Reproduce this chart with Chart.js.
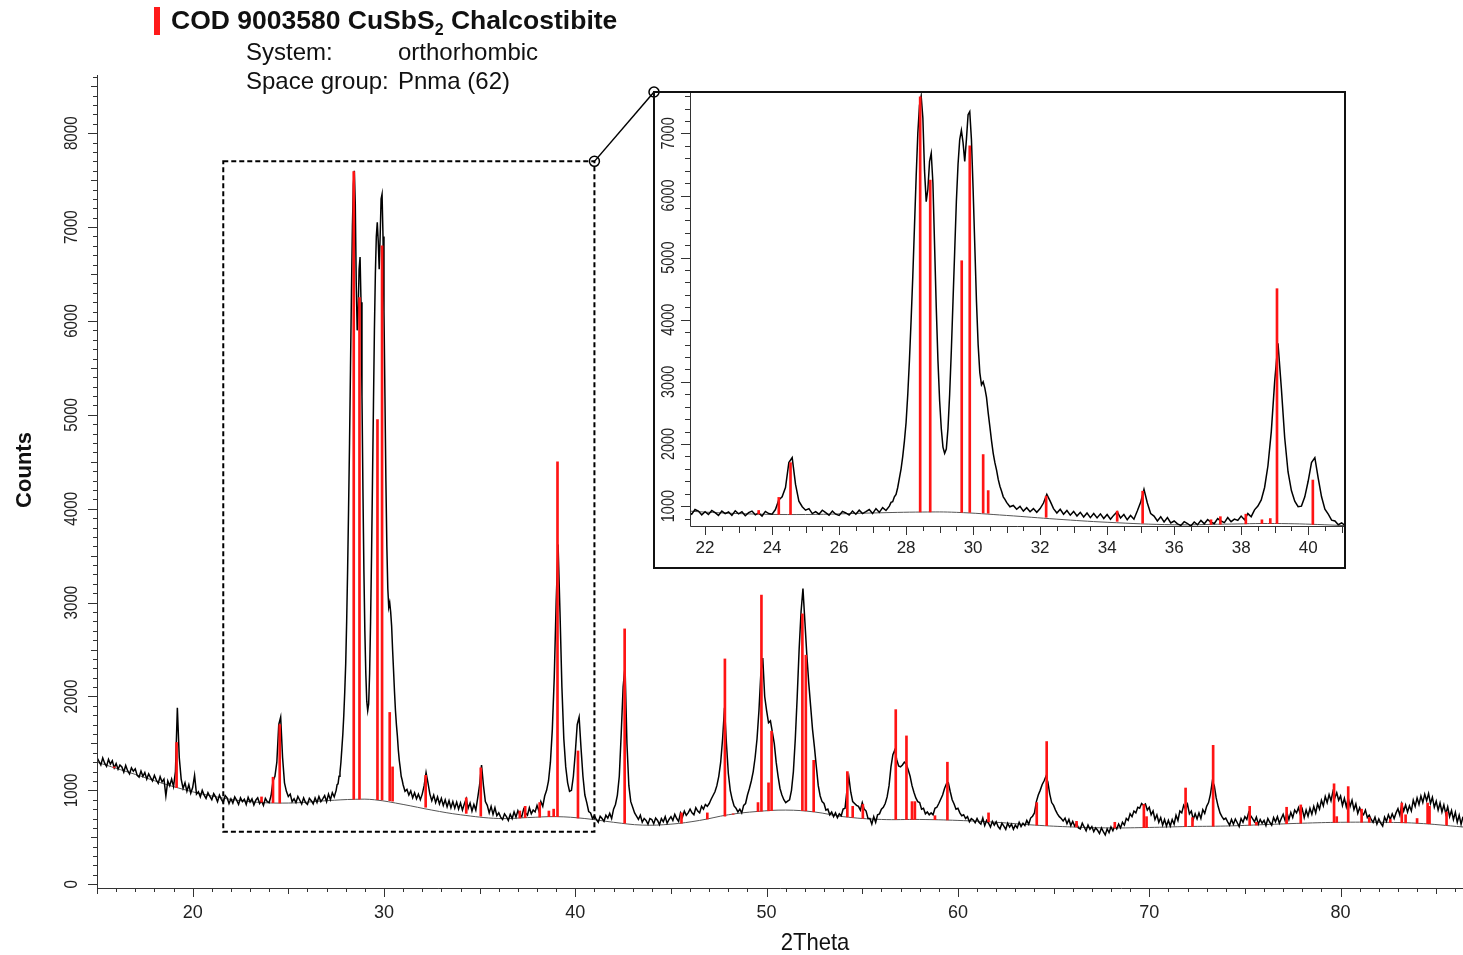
<!DOCTYPE html>
<html>
<head>
<meta charset="utf-8">
<script src="https://cdn.jsdelivr.net/npm/chart.js@4.4.1/dist/chart.umd.min.js"></script>
<style>
  body { margin: 0; background: #fff; font-family: 'Liberation Sans', Arial, sans-serif; }
  #wrap { position: relative; width: 1463px; height: 955px; overflow: hidden; }
  #mainChart { position: absolute; left: 0; top: 0; }
  #inset { position: absolute; left: 653px; top: 91px; width: 689px; height: 474px; border: 2px solid #111; }
  #insetChart { position: absolute; left: 0; top: 0; }
  .redbar { position: absolute; left: 154px; top: 7px; width: 6px; height: 28px; background: #ff1a1a; }
  .title { position: absolute; left: 171px; top: 5px; font-weight: bold; font-size: 26.5px; color: #111; white-space: nowrap; }
  .title sub { font-size: 16px; vertical-align: -6px; line-height: 0; }
  .info { position: absolute; font-size: 24px; color: #111; white-space: nowrap; }
</style>
</head>
<body>
<div id="wrap">
  <canvas id="mainChart" width="1463" height="955"></canvas>
  <div class="redbar"></div>
  <div class="title">COD 9003580 CuSbS<sub>2</sub> Chalcostibite</div>
  <div class="info" style="left:246px; top:38px;">System:</div>
  <div class="info" style="left:398px; top:38px;">orthorhombic</div>
  <div class="info" style="left:246px; top:67px;">Space group:</div>
  <div class="info" style="left:398px; top:67px;">Pnma (62)</div>
  <div id="inset"><canvas id="insetChart" width="689" height="474"></canvas></div>
</div>
<script>
// measured pattern, read off the picture
// part 1: 15.0 - 27.4 deg, step 0.1
var lowStart = 15.0, lowStep = 0.1;
var countsLow = [
  1350, 1310, 1270, 1345, 1290, 1255, 1330, 1280, 1315, 1240,
  1285, 1225, 1270, 1250, 1195, 1265, 1210, 1175, 1240, 1205,
  1230, 1160, 1140, 1205, 1150, 1190, 1120, 1175, 1135, 1100,
  1160, 1110, 1075, 1145, 1090, 1120, 940, 1100, 1050, 1120,
  1040, 1200, 1880, 1350, 1120, 1020, 1080, 990, 1060, 970,
  1030, 1160, 960, 985, 930, 1000, 950, 915, 975, 935,
  900, 965, 930, 880, 950, 905, 870, 945, 920, 860,
  910, 865, 930, 895, 850, 920, 880, 905, 850, 925,
  875, 910, 845, 895, 920, 860, 890, 840, 915, 880,
  870, 945, 1100, 1150, 1300, 1700, 1780, 1350, 1080, 990,
  935, 960, 880, 910, 870, 935, 895, 855, 920, 870,
  850, 915, 890, 855, 920, 870, 935, 880, 910, 945,
  880, 960, 900, 975, 930
];
// part 2: 27.5 - 30.95 deg, step 0.05 (main double peaks)
var peakStart = 27.5, peakStep = 0.05;
var countsPeak = [
  1000, 1060, 1070, 1150, 1190, 1300, 1450, 1600, 1800, 2050,
  2350, 2800, 3350, 4000, 4700, 5500, 6300, 7000, 7450, 7600,
  7250, 6400, 5900, 6100, 6550, 6680, 6200, 5200, 4200, 3350,
  2700, 2250, 1950, 1850, 1920, 2250, 2800, 3500, 4300, 5100,
  5900, 6500, 6900, 7050, 6850, 6550, 6900, 7300, 7350, 6900,
  6100, 5200, 4300, 3600, 3150, 2950, 3000, 2900, 2750, 2500,
  2280, 2050, 1850, 1700, 1580, 1430, 1320, 1240, 1150, 1110
];
// part 3: 31.0 - 86.4 deg, step 0.1
var highStart = 31.0, highStep = 0.1;
var countsHigh = [
  1060, 990, 1010, 950, 995, 920, 975, 910, 960, 900,
  960, 1050, 1190, 1080, 960, 890, 950, 870, 930, 855,
  915, 840, 900, 825, 890, 815, 880, 810, 875, 800,
  865, 790, 855, 910, 810, 865, 780, 850, 790, 920,
  1060, 1270, 1050, 880, 840, 760, 830, 745, 815, 730,
  760, 715, 690, 750, 720, 680, 745, 700, 770, 715,
  785, 740, 720, 800, 760, 735, 815, 750, 790, 770,
  840, 780, 880, 830, 940, 1000, 1100, 1300, 1650, 2200,
  3000, 3620, 2900, 2100, 1550, 1250, 1080, 990, 1000, 1150,
  1400, 1700, 1780, 1450, 1150, 950, 870, 775, 760, 700,
  730, 690, 660, 725, 700, 670, 735, 705, 755, 700,
  800, 850, 950, 1150, 1600, 2100, 2320, 1500, 1050, 880,
  820, 760, 725, 690, 735, 660, 700, 680, 640, 700,
  690, 645, 705, 680, 635, 700, 665, 720, 650, 690,
  720, 680, 745, 700, 670, 760, 715, 780, 735, 760,
  800, 760, 740, 815, 780, 760, 830, 800, 850, 830,
  860, 905, 945, 985, 1050, 1150, 1300, 1550, 1880, 1500,
  1180, 1000, 905, 835, 810, 770, 800, 760, 840, 860,
  950, 1020, 1100, 1200, 1350, 1550, 1850, 2250, 2410, 2000,
  1850, 1720, 1740, 1620, 1500, 1300, 1150, 1020, 950, 900,
  870, 885, 900, 1000, 1200, 1550, 2000, 2500, 2900, 3150,
  2800, 2450, 2150, 1900, 1650, 1460, 1250, 1050, 940, 880,
  860, 790, 800, 740, 770, 720, 760, 710, 750, 730,
  800, 810, 1000, 1140, 980, 880, 860, 840, 830, 790,
  870, 800, 780, 700, 700, 640, 720, 660, 740, 750,
  800, 820, 860, 930, 1050, 1250, 1380, 1430, 1330, 1260,
  1250, 1270, 1300, 1280, 1220, 1150, 1050, 980, 920, 880,
  870, 800, 810, 750, 770, 740, 760, 740, 810, 820,
  860, 905, 950, 1020, 1070, 1080, 985, 900, 855, 800,
  810, 760, 730, 740, 700, 720, 665, 700, 685, 655,
  700, 660, 640, 705, 625, 680, 650, 610, 670, 630,
  665, 615, 590, 650, 620, 585, 650, 610, 640, 585,
  630, 600, 660, 615, 650, 625, 680, 640, 705, 725,
  760, 880, 950, 1000, 1060, 1100, 1150, 1090, 960, 870,
  840, 790, 750, 720, 700, 675, 705, 645, 690, 625,
  670, 620, 650, 600, 590, 650, 610, 570, 630, 585,
  615, 560, 600, 575, 540, 600, 560, 525, 590, 550,
  610, 570, 620, 590, 640, 600, 660, 630, 700, 680,
  750, 720, 780, 760, 820, 810, 860, 840, 855, 790,
  820, 740, 780, 690, 740, 660, 710, 630, 690, 620,
  680, 620, 690, 640, 735, 680, 780, 760, 840, 800,
  850, 750, 780, 690, 750, 695, 760, 700, 795, 755,
  830, 870, 960, 1100, 1050, 920, 830, 760, 720, 690,
  705, 665, 630, 690, 640, 695, 655, 615, 700, 660,
  720, 690, 765, 730, 700, 665, 715, 640, 690, 650,
  680, 625, 700, 660, 630, 710, 665, 720, 650, 700,
  745, 680, 760, 690, 765, 710, 790, 760, 815, 740,
  800, 710, 790, 725, 810, 745, 830, 760, 855, 800,
  895, 835, 935, 870, 955, 890, 985, 920, 975, 895,
  940, 840, 915, 825, 920, 830, 895, 795, 855, 755,
  815, 760, 740, 790, 710, 735, 690, 660, 715, 640,
  695, 650, 620, 715, 670, 740, 690, 750, 700, 760,
  805, 735, 855, 780, 845, 770, 835, 780, 895, 830,
  920, 850, 940, 870, 960, 890, 965, 860, 925, 820,
  885, 790, 865, 770, 845, 750, 825, 720, 785, 690,
  765, 660, 735, 640, 720
];

// fitted background (grey curve)
var bgTheta = [15, 17, 19, 21, 23, 25, 27, 28.5, 29.5, 31, 32.5, 34, 36, 37.5, 39, 40.5, 42, 43.5, 45, 46.5, 48, 49.5, 51, 52.5, 54, 56, 58, 60, 62, 64, 66, 68, 70, 72, 74, 76, 78, 80, 82, 84, 86.4];
var bgCounts = [1300, 1170, 1040, 940, 880, 865, 890, 905, 900, 850, 790, 740, 700, 710, 720, 700, 660, 630, 640, 680, 740, 775, 790, 770, 720, 690, 690, 680, 660, 630, 610, 600, 605, 615, 620, 635, 650, 660, 660, 650, 610];

// COD 9003580 reference lines
var stickTheta = [15.9, 19.16, 23.6, 24.2, 24.55, 28.42, 28.72, 29.66, 29.9, 30.3, 30.45, 32.18, 34.3, 35.06, 37.1, 37.38, 38.14, 38.62, 38.87, 39.07, 40.14, 42.58, 45.55, 46.9, 47.82, 48.25, 49.55, 49.73, 50.1, 50.26, 51.87, 52.05, 52.46, 54.22, 54.5, 55.03, 56.75, 57.31, 57.6, 57.75, 58.8, 59.45, 61.6, 64.12, 64.64, 66.2, 68.2, 69.72, 69.86, 71.9, 72.26, 73.34, 75.25, 75.6, 77.18, 77.92, 79.66, 79.8, 80.4, 81.1, 81.5, 82.6, 83.2, 83.4, 84.0, 84.55, 84.65, 85.54];
var stickTop = [1250, 1510, 930, 1140, 1700, 7590, 6250, 4950, 6800, 1830, 1250, 1160, 920, 1240, 780, 830, 870, 780, 800, 4500, 1420, 2720, 760, 760, 2400, 750, 870, 3080, 1080, 1630, 2880, 2440, 1320, 1200, 830, 850, 1860, 1580, 880, 880, 730, 1300, 760, 870, 1520, 670, 660, 850, 720, 1025, 710, 1480, 830, 660, 820, 845, 1070, 720, 1040, 800, 710, 690, 865, 740, 700, 865, 830, 770];
var stickBase = [1240, 1030, 875, 868, 865, 905, 905, 900, 898, 890, 885, 820, 755, 725, 705, 710, 715, 720, 720, 720, 705, 650, 650, 695, 725, 745, 775, 778, 782, 785, 785, 782, 772, 718, 712, 702, 690, 690, 690, 690, 688, 685, 665, 630, 625, 610, 600, 603, 603, 614, 615, 618, 628, 630, 645, 650, 658, 660, 660, 660, 660, 658, 655, 654, 650, 645, 644, 630];

// axes
var xTickLabels = [20, 30, 40, 50, 60, 70, 80];
var yTickLabels = [0, 1000, 2000, 3000, 4000, 5000, 6000, 7000, 8000];
var insetXTickLabels = [22, 24, 26, 28, 30, 32, 34, 36, 38, 40];
var insetYTickLabels = [1000, 2000, 3000, 4000, 5000, 6000, 7000];

// zoom window shown in the inset
var boxTheta = [21.6, 41.0];
var boxCounts = [560, 7700];
var insetTheta = [21.55, 41.07];
var insetCounts = [680, 7650];


var profile = [];
countsLow.forEach(function(c, i){ profile.push({x: +(lowStart + i*lowStep).toFixed(2), y: c}); });
countsPeak.forEach(function(c, i){ profile.push({x: +(peakStart + i*peakStep).toFixed(2), y: c}); });
countsHigh.forEach(function(c, i){ profile.push({x: +(highStart + i*highStep).toFixed(2), y: c}); });

var background = bgTheta.map(function(t, i){ return {x: t, y: bgCounts[i]}; });
var sticks = stickTheta.map(function(t, i){ return {x: t, y: [stickBase[i], stickTop[i]]}; });

function isMult(v, m){ var r = v / m; return Math.abs(r - Math.round(r)) < 1e-6; }

// tick marks + labels drawn off the chart scales
function axisPlugin(o){
    return {
        id: 'axes',
        afterDraw: function(chart){
            var ctx = chart.ctx, a = chart.chartArea, xs = chart.scales.x, ys = chart.scales.y;
            ctx.save();
            ctx.strokeStyle = '#333';
            ctx.lineWidth = 1;
            ctx.beginPath();
            ctx.moveTo(a.left + 0.5, a.top);
            ctx.lineTo(a.left + 0.5, a.bottom + 0.5);
            ctx.lineTo(a.right, a.bottom + 0.5);
            ctx.stroke();

            ctx.beginPath();
            for (var i = Math.ceil(xs.min / o.xMinor); i * o.xMinor <= xs.max + 1e-9; i++) {
                var v = i * o.xMinor;
                var len = isMult(v, o.xMajor) ? o.major : (isMult(v, o.xMid) ? o.mid : o.minor);
                var px = Math.round(xs.getPixelForValue(v)) + 0.5;
                ctx.moveTo(px, a.bottom);
                ctx.lineTo(px, a.bottom + len);
            }
            for (var j = Math.ceil(Math.max(ys.min, 0) / o.yMinor); j * o.yMinor <= ys.max + 1e-9; j++) {
                var w = j * o.yMinor;
                var ylen = isMult(w, o.yMajor) ? o.major : (isMult(w, o.yMid) ? o.mid : o.minor);
                var py = Math.round(ys.getPixelForValue(w)) + 0.5;
                ctx.moveTo(a.left, py);
                ctx.lineTo(a.left - ylen, py);
            }
            ctx.stroke();

            ctx.fillStyle = '#222';
            ctx.font = o.xFont;
            ctx.textAlign = 'center';
            ctx.textBaseline = 'middle';
            o.xLabels.forEach(function(v){
                if (v < xs.min || v > xs.max) return;
                ctx.fillText(String(v), xs.getPixelForValue(v), a.bottom + o.xLabelGap);
            });
            ctx.font = o.yFont;
            o.yLabels.forEach(function(v){
                if (v < ys.min || v > ys.max) return;
                ctx.save();
                ctx.translate(a.left - o.yLabelGap, ys.getPixelForValue(v));
                ctx.rotate(-Math.PI / 2);
                ctx.scale(0.8, 1);   // condensed digits like the original
                ctx.fillText(String(v), 0, 0);
                ctx.restore();
            });
            if (o.extra) o.extra(chart);
            ctx.restore();
        }
    };
}

function mainExtra(chart){
    var ctx = chart.ctx, xs = chart.scales.x, ys = chart.scales.y;
    // axis titles
    ctx.fillStyle = '#111';
    ctx.save();
    ctx.font = 'bold 22px "Liberation Sans", Arial, sans-serif';
    ctx.translate(25, 470);
    ctx.rotate(-Math.PI / 2);
    ctx.fillText('Counts', 0, 0);
    ctx.restore();
    ctx.save();
    ctx.font = '24px "Liberation Sans", Arial, sans-serif';
    ctx.translate(815, 943);
    ctx.scale(0.92, 1);
    ctx.fillText('2Theta', 0, 0);
    ctx.restore();

    // dashed zoom box
    var x0 = xs.getPixelForValue(boxTheta[0]), x1 = xs.getPixelForValue(boxTheta[1]);
    var y0 = ys.getPixelForValue(boxCounts[1]), y1 = ys.getPixelForValue(boxCounts[0]);
    ctx.strokeStyle = '#000';
    ctx.lineWidth = 2;
    ctx.setLineDash([5, 3]);
    ctx.strokeRect(x0, y0, x1 - x0, y1 - y0);
    ctx.setLineDash([]);
    // connector to the inset frame
    ctx.lineWidth = 1.5;
    ctx.beginPath();
    ctx.moveTo(x1, y0);
    ctx.lineTo(654, 92);
    ctx.stroke();
    ctx.beginPath(); ctx.arc(x1, y0, 5, 0, 2 * Math.PI); ctx.stroke();
    ctx.beginPath(); ctx.arc(654, 92, 5, 0, 2 * Math.PI); ctx.stroke();
}

function datasets(barW){
    return [
        { type: 'bar', data: sticks, backgroundColor: '#ff1414', barThickness: barW, grouped: false, order: 0 },
        { type: 'line', data: profile, borderColor: '#000', borderWidth: 1.5, pointRadius: 0, order: 1 },
        { type: 'line', data: background, borderColor: '#555', borderWidth: 1, pointRadius: 0, tension: 0.4, order: 2 }
    ];
}

function baseOptions(xr, yr, pad){
    return {
        responsive: false,
        animation: false,
        events: [],
        layout: { padding: pad },
        plugins: { legend: { display: false }, tooltip: { enabled: false } },
        scales: {
            x: { type: 'linear', min: xr[0], max: xr[1], offset: false, display: false },
            y: { type: 'linear', min: yr[0], max: yr[1], display: false }
        }
    };
}

var mainChart = new Chart(document.getElementById('mainChart'), {
    type: 'line',
    data: { datasets: datasets(2) },
    options: baseOptions([15, 86.4], [-40, 8620], { left: 97, top: 75, right: 0, bottom: 67 }),
    plugins: [axisPlugin({
        xMinor: 1, xMid: 5, xMajor: 10,
        yMinor: 100, yMid: 500, yMajor: 1000,
        minor: 4, mid: 6, major: 9,
        xLabels: xTickLabels, yLabels: yTickLabels,
        xFont: '18px "Liberation Sans", Arial, sans-serif',
        yFont: '19px "Liberation Sans", Arial, sans-serif',
        xLabelGap: 25, yLabelGap: 25,
        extra: mainExtra
    })]
});

var insetChart = new Chart(document.getElementById('insetChart'), {
    type: 'line',
    data: { datasets: datasets(2) },
    options: baseOptions(insetTheta, insetCounts, { left: 35, top: 0, right: 0, bottom: 41 }),
    plugins: [axisPlugin({
        xMinor: 0.5, xMid: 1, xMajor: 2,
        yMinor: 200, yMid: 1000, yMajor: 1000,
        minor: 5, mid: 7, major: 9,
        xLabels: insetXTickLabels, yLabels: insetYTickLabels,
        xFont: '17px "Liberation Sans", Arial, sans-serif',
        yFont: '18px "Liberation Sans", Arial, sans-serif',
        xLabelGap: 22, yLabelGap: 21
    })]
});
</script>
</body>
</html>
